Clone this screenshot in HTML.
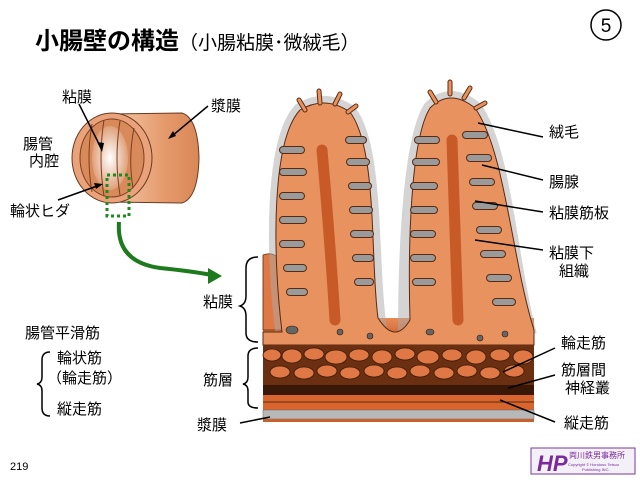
<!DOCTYPE html>
<html><head><meta charset="utf-8"><style>
html,body{margin:0;padding:0;background:#fff}
body{width:640px;height:480px;position:relative;overflow:hidden;font-family:"Liberation Sans","Noto Sans CJK JP",sans-serif;color:#000}
.t{position:absolute;white-space:nowrap;font-size:15px;line-height:17px}
</style></head><body>
<div class="t" style="left:35px;top:28px;font-size:24px;line-height:28px;font-weight:bold">小腸壁の構造<span style="font-size:19px;font-weight:normal">（小腸粘膜･微絨毛）</span></div>
<svg width="640" height="480" style="position:absolute;left:0;top:0">
<defs>
<radialGradient id="lum" cx="0.5" cy="0.5" r="0.5"><stop offset="0" stop-color="#fff"/><stop offset="1" stop-color="#e0a07a"/></radialGradient>
<linearGradient id="tube" x1="0" x2="1"><stop offset="0" stop-color="#f3c9a8"/><stop offset="0.6" stop-color="#e59a6c"/><stop offset="1" stop-color="#d98756"/></linearGradient>
<linearGradient id="muc" x1="0" y1="0" x2="0" y2="1"><stop offset="0" stop-color="#e88a55"/><stop offset="1" stop-color="#b85020"/></linearGradient>
</defs>
<circle cx="606" cy="25" r="15" fill="#fff" stroke="#000" stroke-width="1.5"/>
<text x="606" y="32" font-size="19" text-anchor="middle" font-family="Liberation Sans">5</text>
<!-- tube -->
<path d="M112 114 L182 113 Q198 118 199 158 Q198 198 182 203 L112 202 Z" fill="url(#tube)" stroke="#6a3a20" stroke-width="1"/>
<ellipse cx="112" cy="158" rx="40" ry="45" fill="#e9a27a" stroke="#6a3a20"/>
<ellipse cx="112" cy="158" rx="32" ry="39" fill="#d98a5a" stroke="#7a4020"/>
<ellipse cx="110" cy="158" rx="18" ry="32" fill="url(#lum)"/>
<path d="M92 124 Q86 158 92 192 M104 120 Q98 158 104 196 M120 121 Q114 158 120 195 M134 128 Q128 158 133 188" stroke="#7a4020" fill="none"/>
<rect x="107" y="175" width="22" height="41" fill="none" stroke="#1d8a1d" stroke-width="3" stroke-dasharray="3,3"/>
<path d="M119 222 Q116 262 160 268 Q190 271 212 275" stroke="#1d7a1d" stroke-width="4" fill="none"/>
<polygon points="222,276 208,268 208,284" fill="#1d7a1d"/>
<g stroke="#000" stroke-width="1.5"><line x1="79" y1="104" x2="102" y2="150"/><line x1="208" y1="106" x2="172" y2="136"/><line x1="58" y1="200" x2="100" y2="185"/></g>
<polygon points="102,152 97,142 104,143" /><polygon points="168,139 173,131 176,136"/><polygon points="103,184 94,183 96,189"/>
<!-- tissue block -->
<rect x="263" y="318" width="271" height="30" fill="url(#muc)"/>
<path d="M263 255 Q276 250 282 265 L290 330 L263 330 Z" fill="#e07845" stroke="#5a2a10" stroke-width="0.8"/>
<g stroke="#aaa" stroke-width="14" stroke-linejoin="round" opacity="0.5" fill="none">
<path d="M282 330 C272 250 272 140 300 110 Q325 95 350 112 C378 150 370 260 380 330"/>
<path d="M405 335 C405 250 410 140 430 108 Q450 88 475 108 C505 150 510 260 530 335"/>
</g>
<path d="M282 332 C272 250 272 140 300 110 Q325 95 350 112 C378 150 370 260 378 318 Q395 345 410 320 C408 250 410 140 430 108 Q450 88 475 108 C505 150 512 260 534 330 L534 345 L263 345 L263 332 Z" fill="#e8935f" stroke="#5a2a10" stroke-width="1"/>
<g stroke="#5a2a10" stroke-width="8" stroke-linecap="round" fill="none">
<path d="M283 150h18M283 172h20M283 196h18M283 220h20M283 244h18M287 268h16M290 292h14M349 140h14M350 162h16M352 186h16M353 210h16M354 234h16M356 258h14M358 282h12"/>
<path d="M418 140h18M416 162h20M414 186h20M414 210h20M414 234h18M414 258h18M416 282h16M466 135h18M470 158h18M473 182h18M476 206h18M480 230h18M484 254h18M490 278h18M496 302h16"/>
</g>
<g stroke="#9a9a9a" stroke-width="6" stroke-linecap="round" fill="none">
<path d="M283 150h18M283 172h20M283 196h18M283 220h20M283 244h18M287 268h16M290 292h14M349 140h14M350 162h16M352 186h16M353 210h16M354 234h16M356 258h14M358 282h12"/>
<path d="M418 140h18M416 162h20M414 186h20M414 210h20M414 234h18M414 258h18M416 282h16M466 135h18M470 158h18M473 182h18M476 206h18M480 230h18M484 254h18M490 278h18M496 302h16"/>
</g>
<g stroke="#5a2a10" stroke-width="5" stroke-linecap="round"><path d="M305 110l-6-10M320 103l-1-12M335 104l5-10M348 112l8-6M436 102l-6-10M450 94v-12M464 98l6-10M476 108l9-5"/></g>
<g stroke="#e8935f" stroke-width="3" stroke-linecap="round"><path d="M305 110l-6-10M320 103l-1-12M335 104l5-10M348 112l8-6M436 102l-6-10M450 94v-12M464 98l6-10M476 108l9-5"/></g>
<path d="M322 150 Q330 240 335 320" stroke="#c85a28" stroke-width="11" fill="none" stroke-linecap="round"/>
<path d="M452 140 Q455 240 458 320" stroke="#c85a28" stroke-width="11" fill="none" stroke-linecap="round"/>
<g fill="#666" stroke="#3a1a08" stroke-width="0.6"><ellipse cx="292" cy="330" rx="6" ry="4"/><ellipse cx="340" cy="332" rx="3" ry="3"/><ellipse cx="370" cy="336" rx="3" ry="3"/><ellipse cx="430" cy="332" rx="4" ry="3"/><ellipse cx="480" cy="338" rx="3" ry="3"/><ellipse cx="505" cy="334" rx="3" ry="3"/></g>
<rect x="263" y="345" width="271" height="40" fill="#6b2f12"/>
<g fill="#e07845" stroke="#3a1a08" stroke-width="0.8">
<ellipse cx="272" cy="355" rx="9" ry="6"/><ellipse cx="292" cy="356" rx="10" ry="7"/><ellipse cx="314" cy="354" rx="10" ry="6"/><ellipse cx="336" cy="357" rx="11" ry="7"/><ellipse cx="359" cy="355" rx="10" ry="6"/><ellipse cx="382" cy="357" rx="10" ry="7"/><ellipse cx="405" cy="354" rx="10" ry="6"/><ellipse cx="428" cy="357" rx="11" ry="7"/><ellipse cx="452" cy="355" rx="10" ry="6"/><ellipse cx="476" cy="357" rx="10" ry="7"/><ellipse cx="500" cy="355" rx="10" ry="6"/><ellipse cx="523" cy="357" rx="10" ry="7"/>
<ellipse cx="280" cy="372" rx="10" ry="6"/><ellipse cx="304" cy="373" rx="10" ry="6"/><ellipse cx="327" cy="371" rx="10" ry="6"/><ellipse cx="350" cy="373" rx="10" ry="6"/><ellipse cx="374" cy="371" rx="10" ry="6"/><ellipse cx="397" cy="373" rx="10" ry="6"/><ellipse cx="420" cy="371" rx="10" ry="6"/><ellipse cx="444" cy="373" rx="10" ry="6"/><ellipse cx="467" cy="371" rx="10" ry="6"/><ellipse cx="490" cy="373" rx="10" ry="6"/><ellipse cx="514" cy="371" rx="10" ry="6"/>
</g>
<rect x="263" y="385" width="271" height="10" fill="#3a1808"/>
<rect x="263" y="395" width="271" height="15" fill="#d8652e"/>
<path d="M263 402h271" stroke="#5a2a10" stroke-width="1"/>
<rect x="263" y="410" width="271" height="9" fill="#b8b8b8" stroke="#666" stroke-width="0.5"/>
<rect x="263" y="419" width="271" height="3" fill="#c86030"/>
<g stroke="#000" stroke-width="1.5" fill="none">
<path d="M258 257 Q246 257 246 268 V296 Q246 304 240 306 Q246 308 246 316 V333 Q246 342 258 342"/>
<path d="M258 348 Q248 348 248 356 V377 Q248 383 243 384 Q248 385 248 391 V402 Q248 408 258 408"/>
<path d="M50 352 Q42 352 42 360 V377 Q42 383 37 384 Q42 385 42 391 V408 Q42 416 50 416"/>
</g>
<g stroke="#000" stroke-width="1.5"><line x1="478" y1="123" x2="543" y2="137"/><line x1="482" y1="165" x2="543" y2="180"/><line x1="475" y1="201" x2="543" y2="212"/><line x1="475" y1="240" x2="543" y2="250"/><line x1="503" y1="372" x2="555" y2="348"/><line x1="508" y1="388" x2="555" y2="375"/><line x1="500" y1="400" x2="555" y2="422"/><line x1="240" y1="423" x2="270" y2="417"/></g>
<rect x="531" y="448" width="104" height="26" fill="#f4f0f8" stroke="#7a3a9a" stroke-width="1"/>
<text x="537" y="471" font-size="22" font-weight="bold" fill="#7a2a9a" font-family="Liberation Sans" font-style="italic">HP</text>
<text x="569" y="458" font-size="8" fill="#7a2a9a">両川鉄男事務所</text>
<text x="568" y="466" font-size="4" fill="#7a2a9a">Copyright © Hondoso Tetsuo</text>
<text x="582" y="471" font-size="4" fill="#7a2a9a">Publishing INC.</text>
</svg>
<div class="t" style="left:62px;top:89px">粘膜</div>
<div class="t" style="left:211px;top:98px">漿膜</div>
<div class="t" style="left:23px;top:136px">腸管</div>
<div class="t" style="left:29px;top:153px">内腔</div>
<div class="t" style="left:10px;top:203px">輪状ヒダ</div>
<div class="t" style="left:549px;top:124px">絨毛</div>
<div class="t" style="left:549px;top:174px">腸腺</div>
<div class="t" style="left:549px;top:205px">粘膜筋板</div>
<div class="t" style="left:549px;top:245px">粘膜下</div>
<div class="t" style="left:559px;top:263px">組織</div>
<div class="t" style="left:203px;top:294px">粘膜</div>
<div class="t" style="left:203px;top:372px">筋層</div>
<div class="t" style="left:197px;top:417px">漿膜</div>
<div class="t" style="left:561px;top:335px">輪走筋</div>
<div class="t" style="left:561px;top:362px">筋層間</div>
<div class="t" style="left:565px;top:380px">神経叢</div>
<div class="t" style="left:564px;top:415px">縦走筋</div>
<div class="t" style="left:25px;top:325px">腸管平滑筋</div>
<div class="t" style="left:57px;top:350px">輪状筋</div>
<div class="t" style="left:47px;top:370px">（輪走筋）</div>
<div class="t" style="left:57px;top:401px">縦走筋</div>
<div class="t" style="left:10px;top:459px;font-size:11px">219</div>
</body></html>
